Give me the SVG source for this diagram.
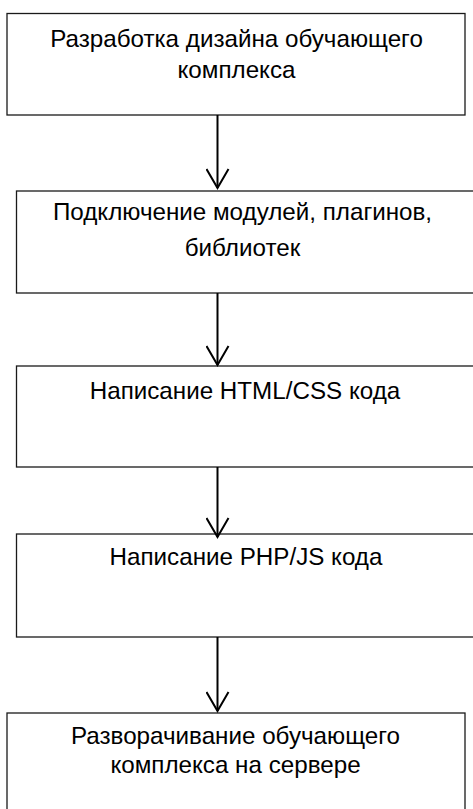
<svg xmlns="http://www.w3.org/2000/svg" width="473" height="809" viewBox="0 0 473 809">
<style>
  .box { fill: #ffffff; stroke: #1a1a1a; stroke-width: 1.3; }
  .lbl { font-family: "Liberation Sans", Arial, sans-serif; font-size: 24.2px; fill: #000000; text-anchor: middle; }
  .edge { fill: none; stroke: #000000; stroke-width: 2; }
</style>
<defs>
  <marker id="arr" viewBox="0 0 22 24" refX="20" refY="12" markerWidth="22" markerHeight="24" markerUnits="userSpaceOnUse" orient="auto">
    <path d="M1,1 L20,12 L1,23" fill="none" stroke="#000" stroke-width="2"/>
  </marker>
</defs>
<rect width="473" height="809" fill="#ffffff"/>
<g id="n1">
  <rect class="box" x="7" y="13.5" width="458" height="101.5"/>
  <text class="lbl" x="236.5" y="47">Разработка дизайна обучающего</text>
  <text class="lbl" x="236.5" y="78">комплекса</text>
</g>
<g id="n2">
  <rect class="box" x="16.5" y="191" width="470" height="102"/>
  <text class="lbl" x="242.5" y="219.5">Подключение модулей, плагинов,</text>
  <text class="lbl" x="242.5" y="256">библиотек</text>
</g>
<g id="n3">
  <rect class="box" x="16.5" y="366" width="470" height="101"/>
  <text class="lbl" x="245" y="399">Написание HTML/CSS кода</text>
</g>
<g id="n4">
  <rect class="box" x="16.5" y="534" width="470" height="103"/>
  <text class="lbl" x="246" y="565">Написание PHP/JS кода</text>
</g>
<g id="n5">
  <rect class="box" x="7" y="713" width="458" height="110"/>
  <text class="lbl" x="235.5" y="744">Разворачивание обучающего</text>
  <text class="lbl" x="235.5" y="773">комплекса на сервере</text>
</g>
<g id="connectors">
  <path class="edge" d="M217.5,115 L217.5,188" marker-end="url(#arr)"/>
  <path class="edge" d="M217.5,293 L217.5,365" marker-end="url(#arr)"/>
  <path class="edge" d="M217.5,467 L217.5,537" marker-end="url(#arr)"/>
  <path class="edge" d="M217.5,637 L217.5,711" marker-end="url(#arr)"/>
</g>
</svg>
